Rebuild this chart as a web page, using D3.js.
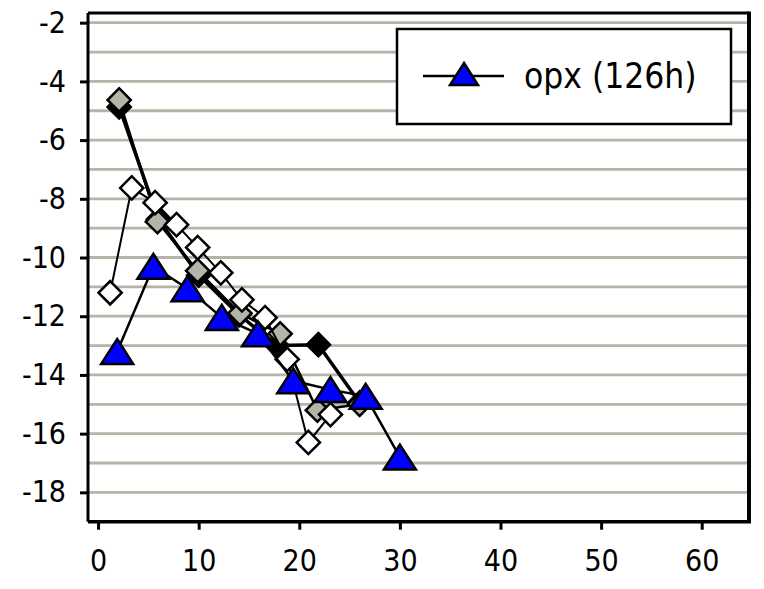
<!DOCTYPE html>
<html><head><meta charset="utf-8">
<script src="https://cdn.jsdelivr.net/npm/d3@7"></script>
<style>body{margin:0;background:#fff}svg{display:block}</style>
</head><body>
<script>
// Data
const seriesBlack = [[2.1,-4.87],[6.0,-8.7],[10.0,-10.6],[14.0,-11.95],[17.8,-13.0],[21.9,-12.97],[26.0,-14.95]];
const seriesGray  = [[2.1,-4.63],[5.9,-8.78],[9.9,-10.45],[14.1,-11.9],[18.1,-12.6],[21.8,-15.2],[26.0,-15.0]];
const seriesWhite = [[1.2,-11.2],[3.35,-7.63],[5.67,-8.13],[7.8,-8.88],[9.9,-9.66],[12.2,-10.52],[14.3,-11.44],[16.6,-12.05],[18.8,-13.47],[20.9,-16.3],[23.1,-15.35]];
const seriesOpx   = [[1.9,-13.2],[5.5,-10.3],[8.9,-11.06],[12.3,-12.04],[15.9,-12.6],[19.4,-14.2],[23.1,-14.5],[26.6,-14.73],[30.0,-16.8]];
const legendLabel = "opx (126h)";
const xTicks = [0,10,20,30,40,50,60];
const yTicks = [-18,-16,-14,-12,-10,-8,-6,-4,-2];
const yGrid = d3.range(-18,-1,1);

const W=764,H=589;
const svg=d3.select("body").append("svg").attr("width",W).attr("height",H);
const x=d3.scaleLinear().domain([-1,64.7]).range([88,749]);
const y=d3.scaleLinear().domain([-19,-1.67]).range([521.7,13]);
const font="'DejaVu Sans Condensed','DejaVu Sans',sans-serif";

// gridlines
svg.append("g").selectAll("line").data(yGrid).join("line")
  .attr("x1",x(-1)).attr("x2",x(64.7)).attr("y1",d=>y(d)).attr("y2",d=>y(d))
  .attr("stroke","#b4b4a8").attr("stroke-width",2.8);

// axes
const yAxis=svg.append("g").attr("transform",`translate(${x(-1)},0)`)
  .call(d3.axisLeft(y).tickValues(yTicks).tickSize(8).tickPadding(14).tickFormat(d=>d.toString().replace("−","-")));
const xAxis=svg.append("g").attr("transform",`translate(0,${y(-19)})`)
  .call(d3.axisBottom(x).tickValues(xTicks).tickSize(8).tickPadding(20));
[yAxis,xAxis].forEach(a=>{
  a.select(".domain").remove();
  a.selectAll(".tick line").attr("stroke","#000").attr("stroke-width",3);
  a.selectAll("text").attr("font-family",font).attr("font-size",30).attr("fill","#000");
});
xAxis.selectAll("text").attr("dy","0.71em");

// frame
svg.append("line").attr("x1",x(-1)).attr("x2",x(64.7)).attr("y1",y(-1.67)).attr("y2",y(-1.67)).attr("stroke","#000").attr("stroke-width",3);
svg.append("line").attr("x1",x(-1)).attr("x2",x(-1)).attr("y1",y(-1.67)).attr("y2",y(-19)).attr("stroke","#000").attr("stroke-width",3);
svg.append("line").attr("x1",x(-1)).attr("x2",x(64.7)+2).attr("y1",y(-19)).attr("y2",y(-19)).attr("stroke","#000").attr("stroke-width",3.5);
svg.append("line").attr("x1",x(64.7)).attr("x2",x(64.7)).attr("y1",y(-1.67)-1.5).attr("y2",y(-19)).attr("stroke","#000").attr("stroke-width",4);

const line=d3.line().x(d=>x(d[0])).y(d=>y(d[1]));
const diamond=d3.symbol().type(d3.symbolSquare).size(270)();
const tri=(w,h)=>`M0,${-h/2}L${w/2},${h/2}L${-w/2},${h/2}Z`;

function drawSeries(data,opt){
  const g=svg.append("g");
  g.append("path").attr("d",line(data)).attr("fill","none").attr("stroke","#000").attr("stroke-width",opt.lw);
  const m=g.selectAll("path.m").data(data).join("path").attr("class","m")
    .attr("fill",opt.fill).attr("stroke","#000").attr("stroke-width",2.5).attr("stroke-linejoin","miter");
  if(opt.shape==="diamond"){
    m.attr("d",diamond).attr("transform",d=>`translate(${x(d[0])},${y(d[1])}) rotate(45)`);
  } else {
    m.attr("d",tri(32,25)).attr("transform",d=>`translate(${x(d[0])},${y(d[1])})`);
  }
}
drawSeries(seriesBlack,{fill:"#000",lw:3.5,shape:"diamond"});
drawSeries(seriesGray,{fill:"#b4b4a8",lw:2.5,shape:"diamond"});
drawSeries(seriesWhite,{fill:"#fff",lw:2,shape:"diamond"});
drawSeries(seriesOpx,{fill:"#0000ff",lw:2.5,shape:"triangle"});

// legend
const lg=svg.append("g");
lg.append("rect").attr("x",397).attr("y",29).attr("width",334).attr("height",95)
  .attr("fill","#fff").attr("stroke","#000").attr("stroke-width",2.5);
lg.append("line").attr("x1",423).attr("x2",504).attr("y1",76).attr("y2",76).attr("stroke","#000").attr("stroke-width",2.5);
lg.append("path").attr("d",tri(28,22)).attr("transform","translate(464,74)").attr("fill","#0000ff").attr("stroke","#000").attr("stroke-width",2.5);
lg.append("text").attr("x",524).attr("y",76).attr("dy","0.35em").attr("font-family",font).attr("font-size",35).attr("fill","#000").text(legendLabel);
</script>
</body></html>
